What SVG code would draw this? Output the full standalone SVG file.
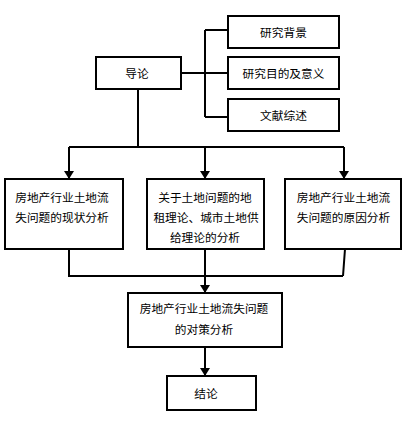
<svg xmlns="http://www.w3.org/2000/svg" width="406" height="422" viewBox="0 0 406 422">
<style>
.box{fill:#fff;stroke:#000;stroke-width:2}
.ln{fill:none;stroke:#000;stroke-width:2}
text{font-family:"Liberation Sans","Noto Sans CJK SC",sans-serif;font-size:11.7px;fill:#000;text-anchor:middle;dominant-baseline:central}
</style>
<defs>
<marker id="arr" viewBox="0 0 8 10" refX="8" refY="5" markerWidth="8" markerHeight="10" markerUnits="userSpaceOnUse" orient="auto">
<path d="M0,0 L8,5 L0,10 Z" fill="#000"/>
</marker>
</defs>
<rect width="406" height="422" fill="#fff"/>
<g id="connectors">
<path class="ln" d="M181,73 H228 M205,30 V117 M205,30 H228 M205,117 H228"/>
<path class="ln" d="M138,89 V147 M69,147 H344"/>
<path class="ln" d="M69,147 V179" marker-end="url(#arr)"/>
<path class="ln" d="M205,147 V179" marker-end="url(#arr)"/>
<path class="ln" d="M344,147 V179" marker-end="url(#arr)"/>
<path class="ln" d="M69,249 V276 H343 M345,249 L343,276"/>
<path class="ln" d="M205,249 V293" marker-end="url(#arr)"/>
<path class="ln" d="M205,347 V376" marker-end="url(#arr)"/>
</g>
<g id="n-daolun"><rect class="box" x="96" y="57" width="85" height="32"/><text x="137" y="73">导论</text></g>
<g id="n-bg"><rect class="box" x="228" y="16" width="111" height="32"/><text x="283.5" y="32">研究背景</text></g>
<g id="n-purpose"><rect class="box" x="228" y="57" width="111" height="32"/><text x="283.5" y="73">研究目的及意义</text></g>
<g id="n-review"><rect class="box" x="228" y="99" width="111" height="32"/><text x="283.5" y="115">文献综述</text></g>
<g id="n-status"><rect class="box" x="5" y="179" width="118" height="70"/><text x="62" y="197">房地产行业土地流</text><text x="62" y="217">失问题的现状分析</text></g>
<g id="n-theory"><rect class="box" x="147" y="179" width="117" height="70"/><text x="205" y="197">关于土地问题的地</text><text x="206" y="217">租理论、城市土地供</text><text x="205" y="237">给理论的分析</text></g>
<g id="n-cause"><rect class="box" x="285" y="179" width="116" height="70"/><text x="343.5" y="197">房地产行业土地流</text><text x="343.5" y="217">失问题的原因分析</text></g>
<g id="n-policy"><rect class="box" x="128" y="293" width="154" height="54"/><text x="204" y="308">房地产行业土地流失问题</text><text x="204" y="329">的对策分析</text></g>
<g id="n-conclusion"><rect class="box" x="167" y="376" width="89" height="34"/><text x="206" y="393">结论</text></g>
</svg>
